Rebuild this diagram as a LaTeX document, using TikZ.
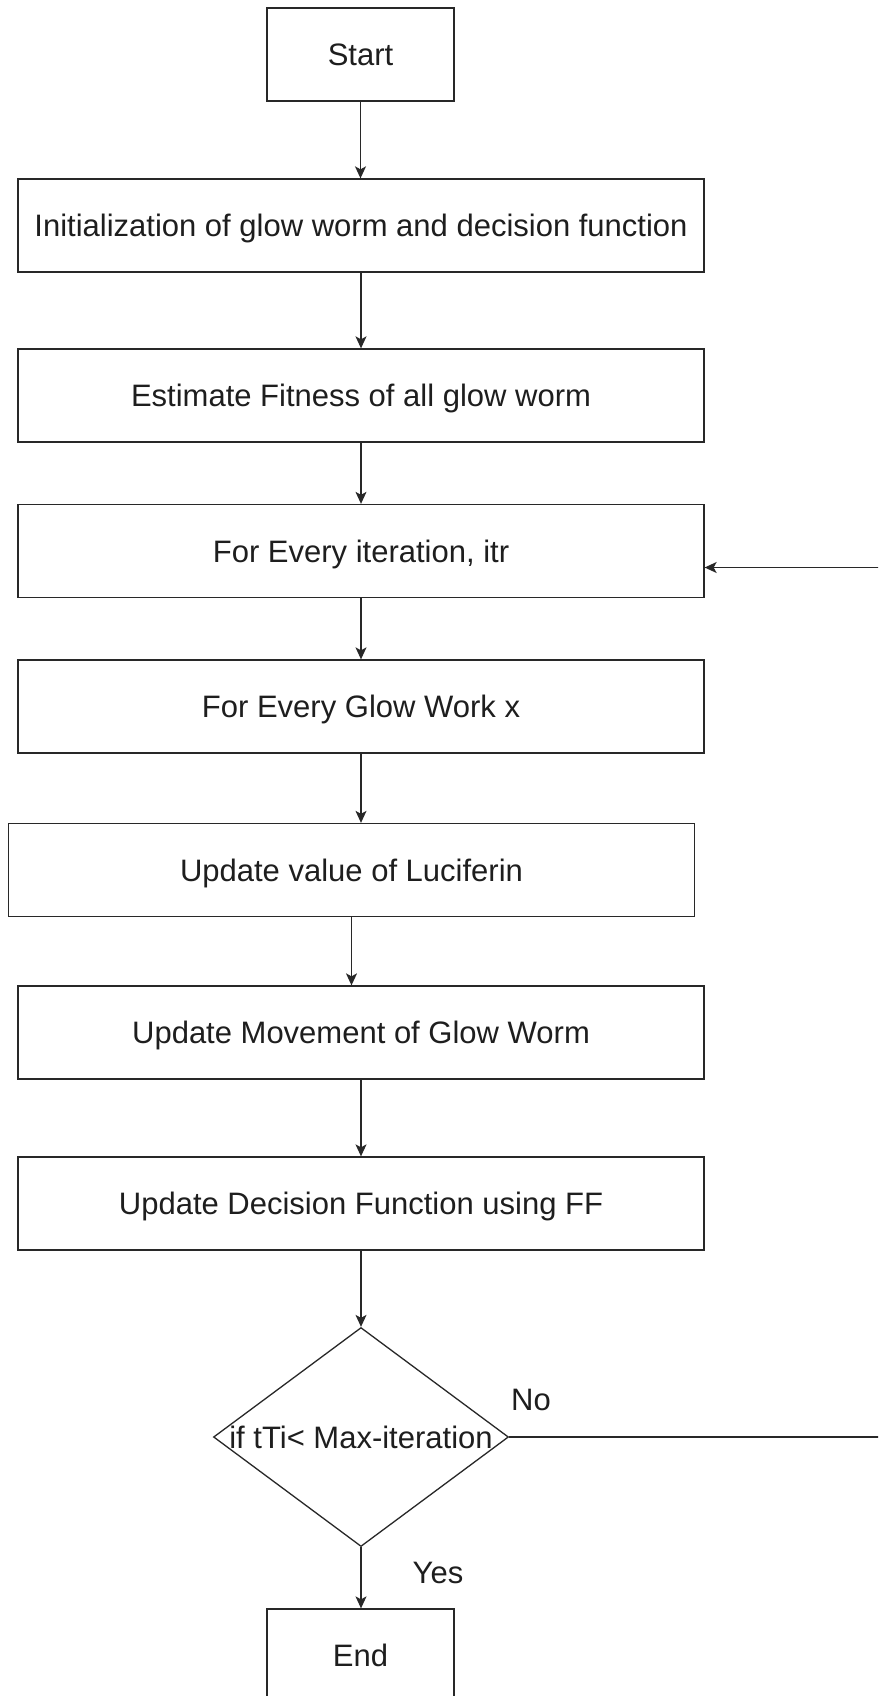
\documentclass[tikz,border=0pt]{standalone}
\usepackage{fontspec}
\setmainfont{Liberation Sans}
\usetikzlibrary{shapes.geometric,arrows.meta}
\definecolor{linecol}{RGB}{40,40,40}
\definecolor{txtcol}{RGB}{30,30,30}
\begin{document}
\begin{tikzpicture}[x=1pt,y=-1pt,
  txt/.style={text=txtcol, inner sep=0pt, text height=22pt, text depth=0pt, font=\fontsize{31}{37}\selectfont},
  proc/.style={txt, draw=linecol, line width=1.3pt},
  smallbox/.style={proc, minimum width=187pt, minimum height=93pt},
  widebox/.style={proc, minimum width=686pt, minimum height=93pt},
  arr/.style={draw=linecol, line width=1.3pt, -{Stealth[length=12pt,width=11pt,inset=3pt]}}]
\useasboundingbox (0,0) rectangle (878,1696);
\clip (0,0) rectangle (878,1696);
\fill[white] (0,0) rectangle (878,1696);

% process steps
\node[smallbox] (start) at (360.5,54.5) {Start};
\node[widebox]  (init)  at (361,225.5)  {Initialization of glow worm and decision function};
\node[widebox]  (fit)   at (361,395.5)  {Estimate Fitness of all glow worm};
\node[widebox]  (iter)  at (361,551)    {For Every iteration, itr};
\node[widebox]  (glow)  at (361,706.5)  {For Every Glow Work x};
\node[widebox]  (luci)  at (351.5,870)  {Update value of Luciferin};
\node[widebox]  (move)  at (361,1032.5) {Update Movement of Glow Worm};
\node[widebox]  (upd)   at (361,1203.5) {Update Decision Function using FF};

% decision
\node[draw=linecol, line width=1.3pt, diamond, minimum width=295pt, minimum height=219pt, inner sep=0pt] (dec) at (361,1437) {};
\node[txt] (dectext) at (dec.center) {if tTi< Max-iteration};

\node[smallbox] (end) at (360.5,1655.5) {End};

% branch labels
\node[txt] (no)  at (531,1399) {No};
\node[txt] (yes) at (438,1572) {Yes};

% main flow
\draw[arr] (start.south) -- (start.south |- init.north);
\draw[arr] (init.south) -- (init.south |- fit.north);
\draw[arr] (fit.south) -- (fit.south |- iter.north);
\draw[arr] (iter.south) -- (iter.south |- glow.north);
\draw[arr] (glow.south) -- (glow.south |- luci.north);
\draw[arr] (luci.south) -- (luci.south |- move.north);
\draw[arr] (move.south) -- (move.south |- upd.north);
\draw[arr] (upd.south) -- (upd.south |- dec.north);
\draw[arr] (dec.south) -- (dec.south |- end.north);

% loop back to the iteration step
\coordinate (loopR) at (900,1437);
\coordinate (loopT) at (900,567.5);
\draw[arr] (dec.east) -- (loopR) -- (loopT) -- (loopT -| iter.east);
\end{tikzpicture}
\end{document}
